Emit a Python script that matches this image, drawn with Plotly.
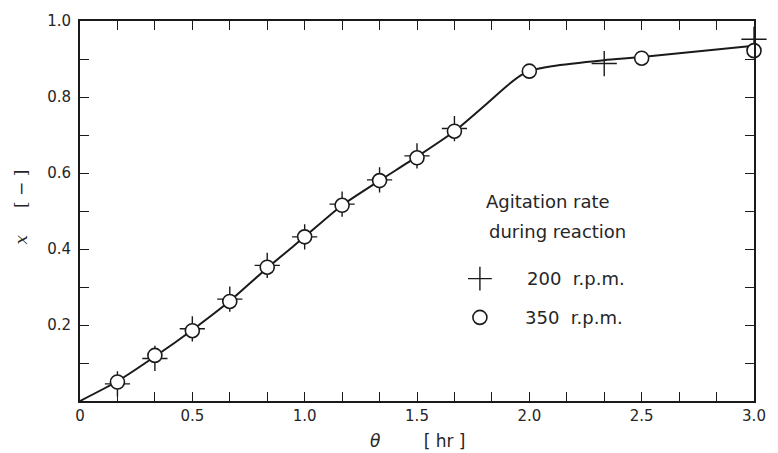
import plotly.graph_objects as go

# Data
theta_350 = [1/6, 2/6, 3/6, 4/6, 5/6, 1.0, 7/6, 8/6, 1.5, 10/6, 2.0, 2.5, 3.0]
x_350 = [0.05, 0.12, 0.185, 0.262, 0.352, 0.432, 0.515, 0.58, 0.64, 0.71, 0.868, 0.902, 0.922]

theta_200 = [1/6, 2/6, 3/6, 4/6, 5/6, 1.0, 7/6, 8/6, 1.5, 10/6, 7/3, 3.0]
x_200 = [0.045, 0.112, 0.19, 0.268, 0.357, 0.432, 0.518, 0.582, 0.645, 0.717, 0.888, 0.952]

curve_theta = [0.0, 1/6, 2/6, 0.5, 4/6, 5/6, 1.0, 7/6, 8/6, 1.5, 10/6, 1.8, 1.9, 1.96, 2.0, 2.1, 2.333, 2.5, 3.0]
curve_x = [0.0, 0.052, 0.117, 0.187, 0.263, 0.35, 0.432, 0.515, 0.58, 0.643, 0.71, 0.777, 0.829, 0.856, 0.868, 0.881, 0.897, 0.905, 0.935]

xtick_vals = [0, 0.5, 1.0, 1.5, 2.0, 2.5, 3.0]
xtick_text = ["0", "0.5", "1.0", "1.5", "2.0", "2.5", "3.0"]
ytick_vals = [0.2, 0.4, 0.6, 0.8, 1.0]
ytick_text = ["0.2", "0.4", "0.6", "0.8", "1.0"]

legend_title = ["Agitation rate", "during reaction"]
legend_labels = ["200  r.p.m.", "350  r.p.m."]

FONT = "DejaVu Sans"
INK = "#1a1a1a"
TXT = "#262626"

fig = go.Figure()
fig.add_trace(go.Scatter(x=curve_theta, y=curve_x, mode="lines",
                         line=dict(color=INK, width=2, shape="spline", smoothing=0.6),
                         hoverinfo="skip", showlegend=False))
fig.add_trace(go.Scatter(x=theta_200, y=x_200, mode="markers", cliponaxis=False,
                         marker=dict(symbol="cross-thin", size=18,
                                     line=dict(color=INK, width=1.4)),
                         showlegend=False, name="200 r.p.m."))
fig.add_trace(go.Scatter(x=theta_350, y=x_350, mode="markers", cliponaxis=False,
                         marker=dict(symbol="circle", size=14, color="white",
                                     line=dict(color=INK, width=1.6)),
                         showlegend=False, name="350 r.p.m."))

# legend built as text inside the plot
lf = dict(family=FONT, size=18, color=TXT)
fig.add_annotation(x=1.80, y=0.525, text=legend_title[0], showarrow=False, xanchor="left", font=lf)
fig.add_annotation(x=1.81, y=0.447, text=legend_title[1], showarrow=False, xanchor="left", font=lf)
fig.add_annotation(x=1.98, y=0.322, text=legend_labels[0], showarrow=False, xanchor="left", font=lf)
fig.add_annotation(x=1.97, y=0.22, text=legend_labels[1], showarrow=False, xanchor="left", font=lf)
fig.add_trace(go.Scatter(x=[1.78], y=[0.322], mode="markers",
                         marker=dict(symbol="cross-thin", size=17, line=dict(color=INK, width=1.4)),
                         hoverinfo="skip", showlegend=False))
fig.add_trace(go.Scatter(x=[1.78], y=[0.22], mode="markers",
                         marker=dict(symbol="circle", size=14, color="white",
                                     line=dict(color=INK, width=1.6)),
                         hoverinfo="skip", showlegend=False))

# axis titles
fig.add_annotation(x=0.5, y=-0.106, xref="paper", yref="paper", yanchor="middle",
                   text="<i>θ</i>        [ hr ]", showarrow=False,
                   font=dict(family=FONT, size=17, color=TXT))
fig.add_annotation(x=-0.087, y=0.51, xref="paper", yref="paper", xanchor="center",
                   text="<i>x</i>     [ − ]", textangle=-90, showarrow=False,
                   font=dict(family="DejaVu Serif", size=17, color=TXT))

fig.update_layout(
    width=778, height=453,
    margin=dict(l=80, r=16, t=15, b=52),
    paper_bgcolor="white", plot_bgcolor="white",
    font=dict(family=FONT, size=15, color=TXT),
    xaxis=dict(range=[0, 3.0], tickvals=xtick_vals, ticktext=xtick_text,
               ticks="inside", ticklen=9, tickwidth=1.3, tickcolor=INK,
               minor=dict(dtick=1/6, tick0=0, ticks="inside", ticklen=9, tickwidth=1.3, tickcolor=INK),
               showline=True, linecolor=INK, linewidth=1.8, mirror="ticks",
               showgrid=False, zeroline=False),
    yaxis=dict(range=[0, 1.0], tickvals=ytick_vals, ticktext=ytick_text,
               ticks="inside", ticklen=9, tickwidth=1.3, tickcolor=INK,
               minor=dict(dtick=0.1, tick0=0, ticks="inside", ticklen=9, tickwidth=1.3, tickcolor=INK),
               showline=True, linecolor=INK, linewidth=1.8, mirror="ticks",
               showgrid=False, zeroline=False, ticklabelstandoff=4),
)

fig.write_html("out.html", config={"displayModeBar": False},
               post_script="document.body.style.margin='0';")
